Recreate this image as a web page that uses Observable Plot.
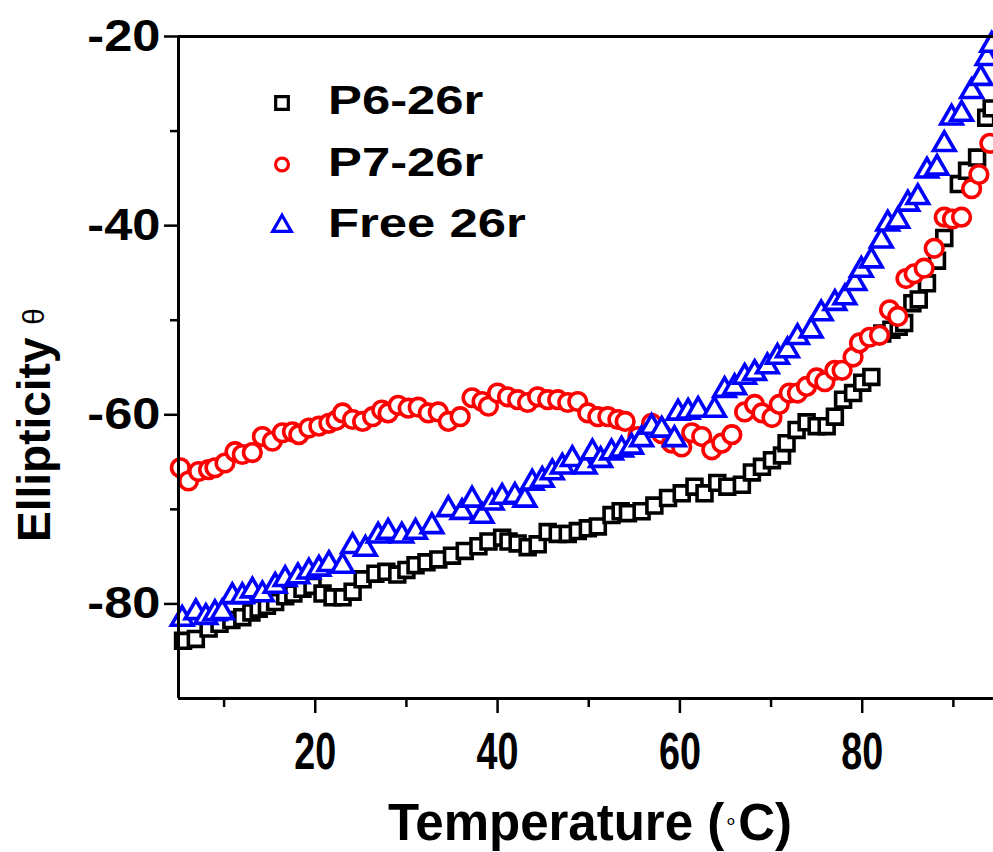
<!DOCTYPE html>
<html><head><meta charset="utf-8">
<script src="https://cdn.jsdelivr.net/npm/d3@7"></script>
<script src="https://cdn.jsdelivr.net/npm/@observablehq/plot@0.6"></script>
<style>html,body{margin:0;padding:0;background:#fff} svg{display:block}</style>
</head><body><div id="chart"></div>
<script>
// ---- data ----
const p6T = [5.5,6.9,8.3,9.5,10.8,12,13,13.8,14.7,15.6,16.7,17.6,18.6,19.7,20.8,21.9,23,24.1,25.2,26.6,27.8,29,30,31,32.2,33.5,35,36.4,37.9,39,40.5,41.2,42.2,43.3,44.4,45.5,46.6,47.7,48.8,49.9,51,52.5,53.5,54.3,55.8,57.2,58.7,60.2,61.6,62.7,64.1,65.2,66.8,67.9,69,70.1,71.2,71.7,72.8,73.9,75,76.1,77,77.9,79,80,81,82.2,83.2,84,84.6,85.5,86.2,87.1,88.2,89,90.6,91.5,92.6,93.6,94.2];
const p6V = [-83.9,-83.7,-82.6,-82.1,-81.7,-81.4,-80.9,-80.5,-80.2,-79.8,-79.2,-78.9,-78.4,-78.1,-78.9,-79.3,-79.3,-78.7,-77.4,-76.8,-76.6,-76.9,-76.4,-75.9,-75.6,-75.3,-74.9,-74.4,-73.9,-73.4,-73.0,-73.4,-73.6,-74.0,-73.7,-72.4,-72.6,-72.6,-72.3,-72.0,-71.8,-70.6,-70.2,-70.4,-70.2,-69.6,-68.8,-68.3,-67.6,-68.3,-67.2,-67.6,-67.4,-66.1,-65.5,-64.8,-64.3,-63.0,-61.6,-60.8,-61.2,-61.2,-60.2,-58.4,-57.7,-56.6,-56.0,-51.4,-51.0,-50.7,-50.3,-48.2,-47.8,-46.1,-43.7,-41.3,-35.6,-34.2,-32.8,-28.6,-27.6];

const p7T = [5.2,6.1,7.2,8.3,9,10.1,11.2,12,13.1,14.2,15.3,16.4,17.5,18.2,19.3,20.4,21.5,22.3,23,24.1,25.2,26.3,27.3,28,29.1,30.2,31.3,32.4,33.5,34.6,35.9,37.2,38.3,39,40,41.1,42.2,43.3,44.4,45.5,46.6,47.7,48.8,49.9,51,52.1,53.2,54,55.4,56.9,58,59.1,60.2,61.3,62.4,63.5,64.6,65.7,67.1,68.2,69,70.1,70.9,72,72.9,73.9,75,75.9,77,77.8,79,79.7,80.8,81.9,83,83.9,84.8,85.7,86.8,87.9,89,89.9,90.9,92,92.8,94];
const p7V = [-65.6,-67,-66,-65.8,-65.6,-65.1,-63.9,-64.2,-64,-62.3,-62.8,-61.9,-61.8,-62.1,-61.4,-61.2,-60.9,-60.6,-59.8,-60.5,-60.7,-60.2,-59.5,-59.8,-59,-59.3,-59.2,-59.8,-59.7,-60.7,-60.2,-58.2,-58.6,-59.1,-57.7,-58.1,-58.4,-58.7,-58.1,-58.4,-58.4,-58.7,-58.6,-59.8,-60.2,-60.2,-60.5,-60.7,-62.3,-60.9,-62,-63,-63.4,-61.9,-62.3,-63.7,-63,-62.1,-59.7,-58.9,-59.8,-60.3,-58.9,-57.7,-57.7,-57,-56.1,-56.5,-55.3,-55.3,-53.9,-52.4,-51.8,-51.6,-48.9,-49.6,-45.6,-45.1,-44.5,-42.4,-39.1,-39.3,-39.1,-36.1,-34.6,-31.3];

const freeT = [5.4,6.9,8,9,9.8,10.9,12,13.1,14.2,15.6,16.7,18.1,19.3,20.4,21.5,23,24.1,25.5,26.9,28,29.5,31,32.8,34.6,36.1,37.2,38.3,39.4,40.5,41.9,43,43.8,44.9,46,47.1,48.2,49.6,50.4,51.3,52.5,53.6,54.7,55.8,56.9,58,59.4,59.8,60.9,62,63.8,64.9,66,67.1,68.2,69.6,70.7,71.8,72.9,74.4,75.5,77,78.1,79.2,79.9,81,82.1,82.8,83.9,85,86.1,87.1,88.2,89,89.8,90.9,92,93,93.7,94.2];
const freeV = [-81.6,-80.9,-81.4,-81,-80.9,-79.2,-79.2,-78.6,-79,-78.1,-77.4,-77.1,-76.6,-76.3,-75.8,-76,-73.9,-74.2,-72.8,-72.4,-72.8,-72.4,-71.8,-70,-70.3,-69,-70.7,-69.3,-68.7,-68.6,-69,-67.2,-66.9,-66.1,-65.5,-64.7,-65.5,-64,-64.8,-64,-63.7,-63.4,-62.6,-61.3,-61.6,-62.6,-59.8,-59.7,-59.5,-59.5,-57.4,-57.1,-56,-55.6,-54.9,-53.9,-53.2,-51.8,-51.1,-49.3,-48.2,-47.6,-46.1,-44.7,-43.7,-41.6,-39.8,-39.5,-37.7,-37,-34.2,-33.9,-31.4,-28.6,-28.2,-25.8,-24.4,-22.3,-20.9];

const seriesNames = ["P6-26r", "P7-26r", "Free 26r"];
const xMajorTicks = [20, 40, 60, 80];
const xMinorTicks = [10, 30, 50, 70, 90];
const yMajorTicks = [-80, -60, -40, -20];
const yMinorTicks = [-70, -50, -30];
const xTitle = "Temperature (";
const xTitleUnit = "C)";
const yTitle = "Ellipticity ";

// ---- build ----
const rows = (T, V) => T.map((t, i) => ({T: t, V: V[i]}));
const styles = [
  {symbol: "square", color: "#000000", r: 8.4},
  {symbol: "circle", color: "#ff0000", r: 8.8},
  {symbol: "triangle", color: "#0000ff", r: 8.0}
];
const sets = [rows(p6T, p6V), rows(p7T, p7V), rows(freeT, freeV)];

const W = 993, H = 852;
const plot = Plot.plot({
  width: W, height: H,
  marginLeft: 178, marginRight: 0, marginTop: 36, marginBottom: 154,
  style: {fontFamily: "'Liberation Sans', Arial, sans-serif", fontWeight: "bold", background: "#fff", color: "#000", overflow: "visible"},
  x: {domain: [5, 94.4]},
  y: {domain: [-90, -20]},
  marks: [
    ...sets.map((d, i) => Plot.dot(d, {x: "T", y: "V", symbol: () => styles[i].symbol, r: styles[i].r, stroke: styles[i].color, fill: "#fff", strokeWidth: 3.6})),
    Plot.axisX({ticks: xMajorTicks, tickSize: 15, tickPadding: 19, fontSize: 51, label: null, strokeWidth: 2.5, stroke: "#000"}),
    Plot.axisX({ticks: xMinorTicks, tickSize: 9, tickFormat: () => "", label: null, strokeWidth: 2.5, stroke: "#000"}),
    Plot.axisY({ticks: yMajorTicks, tickSize: 14, tickPadding: 4, fontSize: 44, label: null, strokeWidth: 2.5, stroke: "#000", tickFormat: d => String(d)}),
    Plot.axisY({ticks: yMinorTicks, tickSize: 8, tickFormat: () => "", label: null, strokeWidth: 2.5, stroke: "#000"}),
    Plot.ruleY([-90], {stroke: "#000", strokeWidth: 3}),
    Plot.ruleY([-20], {stroke: "#000", strokeWidth: 3}),
    Plot.ruleX([5], {stroke: "#000", strokeWidth: 3})
  ]
});

const svg = d3.select(plot);
svg.selectAll('g[aria-label="x-axis tick label"] text').attr("transform", function() {
  return d3.select(this).attr("transform") + " scale(0.74,1)";
});
svg.selectAll('g[aria-label="y-axis tick label"] text').attr("transform", function() {
  return d3.select(this).attr("transform") + " scale(1.15,1)";
});

// axis titles
const xt = svg.append("text").attr("x", 590).attr("y", 840).attr("text-anchor", "middle")
  .attr("font-size", 51).attr("font-weight", "bold").attr("fill", "#000");
xt.append("tspan").text(xTitle);
xt.append("tspan").attr("font-size", 22).attr("font-weight", "normal").attr("dy", -12).text("\u2218");
xt.append("tspan").attr("dy", 12).text(xTitleUnit);

const yt = svg.append("text").attr("transform", "translate(50,425) rotate(-90)").attr("text-anchor", "middle")
  .attr("font-size", 46).attr("font-weight", "bold").attr("fill", "#000");
yt.append("tspan").text(yTitle);
yt.append("tspan").attr("font-size", 30).attr("font-weight", "normal").attr("dy", -6).text("\u03B8");

// legend
const lg = svg.append("g");
seriesNames.forEach((name, i) => {
  const cy = 103 + i * 61.5;
  const size = styles[i].symbol === "square" ? 160 : styles[i].symbol === "circle" ? 130 : 150;
  const sym = {square: d3.symbolSquare, circle: d3.symbolCircle, triangle: d3.symbolTriangle}[styles[i].symbol];
  lg.append("path").attr("d", d3.symbol(sym, size)()).attr("transform", `translate(282,${cy})`)
    .attr("fill", "none").attr("stroke", styles[i].color).attr("stroke-width", 3.2);
  lg.append("text").attr("transform", `translate(328,${cy + 11}) scale(1.27,1)`).attr("text-anchor", "start")
    .attr("font-size", 40).attr("font-weight", "bold").attr("fill", "#000").text(name);
});

document.getElementById("chart").appendChild(plot);
</script>
</body></html>
